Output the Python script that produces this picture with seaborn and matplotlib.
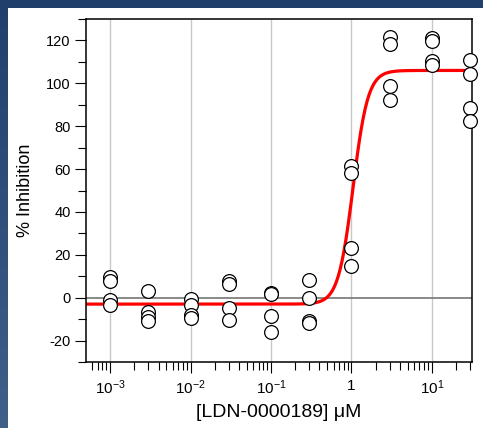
import numpy as np
import pandas as pd
import matplotlib
matplotlib.use("Agg")
import matplotlib.pyplot as plt
import seaborn as sns
from matplotlib.ticker import LogLocator, FixedLocator, MultipleLocator, NullFormatter, FixedFormatter
from matplotlib.colors import LinearSegmentedColormap

# ---- data ----
concentrations = [0.001, 0.003, 0.01, 0.03, 0.1, 0.3, 1, 3, 10, 30]
rep1 = [9.8, 3.0, -0.7, 7.7, 2.3, 8.2, 61.4, 121.4, 121.0, 110.9]
rep2 = [7.7, -6.6, -3.2, 6.2, 1.8, 0.0, 58.0, 118.3, 119.8, 104.3]
rep3 = [-1.3, -8.9, -8.0, -5.0, -8.5, -11.0, 23.0, 98.8, 110.5, 88.7]
rep4 = [-3.5, -11.0, -9.7, -10.2, -16.0, -11.9, 14.7, 92.1, 108.4, 82.4]

# fitted curve parameters
fit_bottom = -3.0
fit_top = 106.0
fit_ic50 = 1.05
fit_hill = 4.7

xtick_values = [1e-3, 1e-2, 1e-1, 1, 10]
xtick_labels = [r"$10^{-3}$", r"$10^{-2}$", r"$10^{-1}$", "1", r"$10^{1}$"]
ytick_values = [-20, 0, 20, 40, 60, 80, 100, 120]

points = pd.DataFrame({
    "conc": concentrations * 4,
    "inhibition": rep1 + rep2 + rep3 + rep4,
})
xfit = np.logspace(np.log10(5e-4), np.log10(30), 400)
curve = pd.DataFrame({
    "conc": xfit,
    "inhibition": fit_bottom + (fit_top - fit_bottom) / (1 + (fit_ic50 / xfit) ** fit_hill),
})

# ---- styling ----
sns.set_style("white")
plt.rcParams["font.family"] = ["Liberation Sans", "DejaVu Sans"]
plt.rcParams["mathtext.fontset"] = "custom"
plt.rcParams["mathtext.rm"] = "Liberation Sans"
plt.rcParams["mathtext.it"] = "Liberation Sans:italic"
plt.rcParams["mathtext.default"] = "regular"
plt.rcParams["axes.unicode_minus"] = False
plt.rcParams["text.color"] = "black"
plt.rcParams["axes.labelcolor"] = "black"
plt.rcParams["xtick.color"] = "black"
plt.rcParams["ytick.color"] = "black"

W, H = 483, 428
fig = plt.figure(figsize=(W / 100, H / 100), dpi=100)
fig.patch.set_facecolor("white")

# background frame: top navy band + left gradient band
bg = fig.add_axes([0, 0, 1, 1], zorder=-10)
bg.set_axis_off()
cmap = LinearSegmentedColormap.from_list("bluegrad", ["#20406b", "#3e6089"])
grad = np.linspace(0, 1, 256).reshape(-1, 1)
bg.imshow(grad, cmap=cmap, extent=[0, 7.5, H, 0], aspect="auto")
bg.add_patch(plt.Rectangle((0, 0), W, 7.5, color="#20406b", lw=0))
bg.set_xlim(0, W)
bg.set_ylim(H, 0)

ax = fig.add_axes([86 / W, (H - 362) / H, (472 - 86) / W, (362 - 19) / H])
ax.set_facecolor("white")
ax.set_xscale("log")

for xv in xtick_values:
    ax.axvline(xv, color="#c8c8c8", lw=1.0, zorder=0)
ax.axhline(0, color="#808080", lw=1.3, zorder=1)

sns.lineplot(data=curve, x="conc", y="inhibition", ax=ax, color="#ff0000",
             lw=2.3, zorder=2, legend=False)
sns.scatterplot(data=points, x="conc", y="inhibition", ax=ax, s=98,
                facecolor="white", edgecolor="black", linewidth=0.9,
                zorder=3, legend=False, clip_on=False)

ax.set_xlim(10 ** -3.3, 10 ** 1.5)
ax.set_ylim(-30, 130)

ax.xaxis.set_major_locator(FixedLocator(xtick_values))
ax.xaxis.set_major_formatter(FixedFormatter(xtick_labels))
ax.xaxis.set_minor_locator(LogLocator(base=10, subs=np.arange(2, 10)))
ax.xaxis.set_minor_formatter(NullFormatter())
ax.yaxis.set_major_locator(FixedLocator(ytick_values))
ax.yaxis.set_minor_locator(MultipleLocator(10))

ax.tick_params(axis="both", which="major", direction="out", length=8.0,
               width=0.8, color="black", labelcolor="black", labelsize=10.5,
               pad=3, bottom=True, left=True, top=False, right=False)
ax.tick_params(axis="x", which="major", labelsize=11, pad=4)
ax.tick_params(axis="both", which="minor", direction="out", length=5.5,
               width=0.8, color="black", bottom=True, left=True,
               top=False, right=False)

for sp in ax.spines.values():
    sp.set_visible(True)
    sp.set_color("black")
    sp.set_linewidth(1.1)

ax.set_xlabel("[LDN-0000189] \u03bcM", fontsize=14, labelpad=5, color="black")
ax.set_ylabel("% Inhibition", fontsize=13, labelpad=9, color="black")

fig.savefig("out.png", dpi=100)
